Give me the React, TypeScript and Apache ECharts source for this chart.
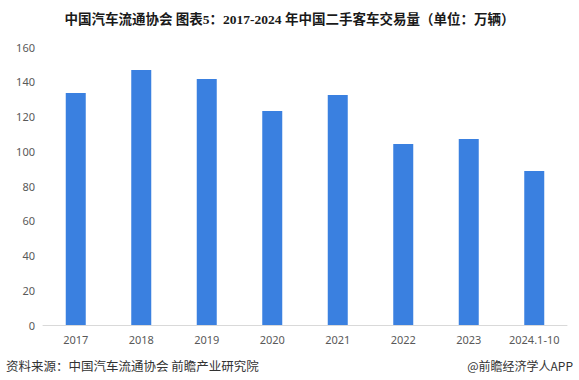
import React, { useEffect, useRef } from "react";
import * as echarts from "echarts";

const categories = ["2017", "2018", "2019", "2020", "2021", "2022", "2023", "2024.1-10"];
const values = [133.5, 146.8, 141.6, 123.2, 132.4, 104.2, 107.0, 88.6];
const yTicks = { min: 0, max: 160, interval: 20 };
const titleText = "中国汽车流通协会 图表5：2017-2024 年中国二手客车交易量（单位：万辆）";
const sourceText = "资料来源：中国汽车流通协会 前瞻产业研究院";
const brandText = "@前瞻经济学人APP";

export default function App() {
  const ref = useRef<HTMLDivElement>(null);
  useEffect(() => {
    if (!ref.current) return;
    const chart = echarts.init(ref.current, null, { renderer: "svg" });
    chart.setOption({
      animation: false,
      backgroundColor: "#ffffff",
      title: {
        text: titleText,
        left: "center",
        top: 8,
        textStyle: {
          fontFamily: "'Liberation Serif', 'Noto Sans CJK SC', serif",
          fontWeight: "bold",
          fontSize: 13.5,
          color: "#1a1a1a",
        },
      },
      grid: { left: 43, right: 12, top: 47, bottom: 55, containLabel: false },
      xAxis: {
        type: "category",
        data: categories,
        axisLine: { lineStyle: { color: "#d9d9d9" } },
        axisTick: { show: false },
        axisLabel: { interval: 0, color: "#595959", fontSize: 11, fontFamily: "'Noto Sans', sans-serif", margin: 9 },
      },
      yAxis: {
        type: "value",
        min: yTicks.min,
        max: yTicks.max,
        interval: yTicks.interval,
        splitLine: { show: false },
        axisLine: { show: false },
        axisTick: { show: false },
        axisLabel: { color: "#595959", fontSize: 11, fontFamily: "'Noto Sans', sans-serif", margin: 8 },
      },
      series: [
        {
          type: "bar",
          data: values,
          barWidth: 20,
          itemStyle: { color: "#3a80e0" },
        },
      ],
      graphic: [
        {
          type: "text",
          left: 6,
          top: 359,
          style: {
            text: sourceText,
            fontSize: 12.5,
            fill: "#333333",
            fontFamily: "'Noto Sans CJK SC', sans-serif",
          },
        },
        {
          type: "text",
          right: 6,
          top: 359,
          style: {
            text: brandText,
            fontSize: 12,
            fill: "#333333",
            fontFamily: "'Noto Sans CJK SC', sans-serif",
          },
        },
      ],
    });
    return () => chart.dispose();
  }, []);
  return <div ref={ref} style={{ width: 579, height: 380, position: "absolute", left: 0, top: 0 }} />;
}
